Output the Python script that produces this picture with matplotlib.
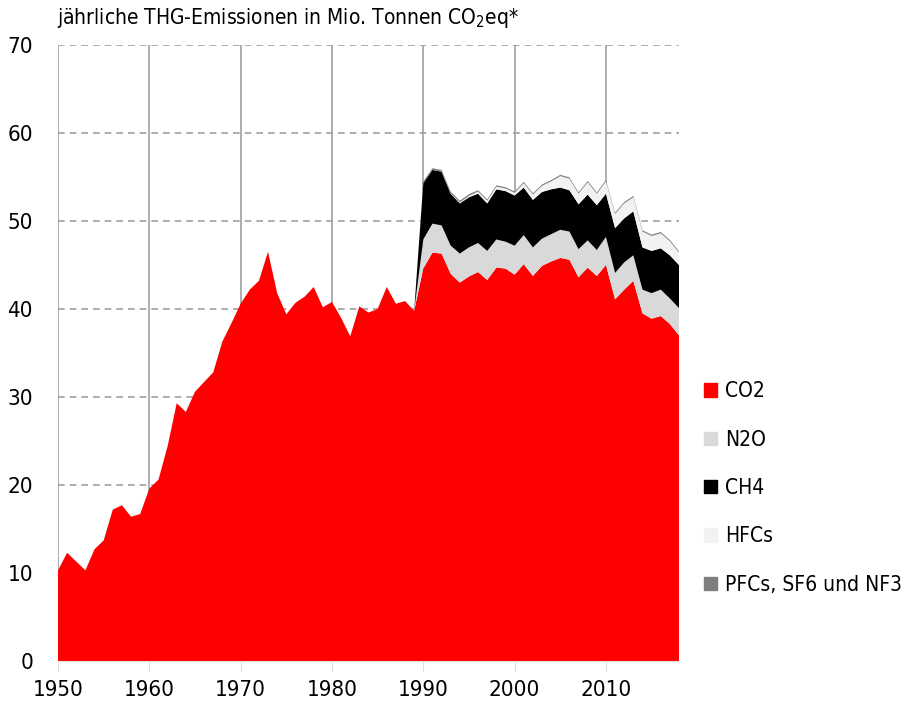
import numpy as np
import matplotlib
matplotlib.use("Agg")
import matplotlib.pyplot as plt
from matplotlib.patches import Patch
from matplotlib import font_manager

# schmale Schrift nehmen, falls vorhanden
narrow = [f for f in font_manager.fontManager.ttflist
          if f.stretch in ("condensed", "semi-condensed", "extra-condensed")
          or "Narrow" in f.name or "Condensed" in f.name]
if narrow:
    plt.rcParams['font.family'] = [narrow[0].name, 'DejaVu Sans']
    plt.rcParams['font.stretch'] = narrow[0].stretch
    fs = 16
else:
    plt.rcParams['font.family'] = ['Roboto', 'DejaVu Sans']
    fs = 14

years = np.arange(1950, 2019)

# CO2 1950-2018 (Mio. t)
co2 = [10.3, 12.3, 11.3, 10.3, 12.7, 13.7, 17.2, 17.7, 16.4, 16.7,
       19.6, 20.6, 24.4, 29.3, 28.3, 30.6, 31.7, 32.8, 36.3, 38.4,
       40.6, 42.2, 43.2, 46.5, 41.8, 39.4, 40.7, 41.4, 42.5, 40.2,
       40.8, 39.0, 36.9, 40.3, 39.6, 40.0, 42.5, 40.6, 40.9, 39.8,
       44.6, 46.4, 46.3, 44.0, 43.0, 43.7, 44.2, 43.3, 44.7, 44.6,
       43.9, 45.1, 43.75, 44.9, 45.4, 45.8, 45.6, 43.6, 44.7, 43.75,
       45.0, 41.1, 42.2, 43.2, 39.5, 38.9, 39.2, 38.3, 37.0]

# weitere Gase erst ab 1990 (davor 0)
n_before = 40
n2o = [0] * n_before + [3.3, 3.3, 3.2, 3.2, 3.3, 3.3, 3.3, 3.3, 3.2, 3.05,
                        3.3, 3.3, 3.25, 3.1, 3.1, 3.2, 3.2, 3.2, 3.1, 2.95,
                        3.2, 3.0, 3.1, 2.9, 2.7, 2.9, 3.0, 2.9, 3.1]
ch4 = [0] * n_before + [6.4, 6.1, 6.1, 5.9, 5.7, 5.7, 5.6, 5.4, 5.7, 5.75,
                        5.7, 5.4, 5.4, 5.3, 5.1, 4.8, 4.7, 5.1, 5.2, 5.1,
                        4.9, 5.1, 5.0, 5.0, 4.8, 4.8, 4.7, 4.9, 4.9]
hfcs = [0] * n_before + [0.0, 0.0, 0.0, 0.05, 0.1, 0.15, 0.25, 0.3, 0.3, 0.3,
                         0.3, 0.5, 0.6, 0.7, 0.9, 1.3, 1.3, 1.2, 1.4, 1.3,
                         1.4, 1.6, 1.7, 1.6, 1.8, 1.7, 1.7, 1.6, 1.4]
pfcs = [0] * n_before + [0.2, 0.2, 0.2, 0.2, 0.2, 0.2, 0.15, 0.15, 0.15, 0.15,
                         0.15, 0.15, 0.15, 0.15, 0.15, 0.15, 0.15, 0.15, 0.15, 0.15,
                         0.15, 0.15, 0.15, 0.15, 0.15, 0.15, 0.15, 0.15, 0.15]

labels = ["CO2", "N2O", "CH4", "HFCs", "PFCs, SF6 und NF3"]
colors = ["#ff0000", "#d9d9d9", "#000000", "#f2f2f2", "#808080"]

fig = plt.figure(figsize=(9.14, 7.01), dpi=100)
ax = fig.add_axes([58 / 914, 1 - 661 / 701, (679 - 58) / 914, (661 - 45) / 701])

ax.stackplot(years, co2, n2o, ch4, hfcs, pfcs, colors=colors, lw=0, zorder=2)

ax.set_xlim(1950, 2018)
ax.set_ylim(0, 70)
ax.set_xticks(range(1950, 2011, 10))
ax.set_yticks(range(0, 71, 10))
ax.xaxis.grid(True, color="#a0a0a0", lw=1.2, zorder=1)
ax.yaxis.grid(True, color="#a0a0a0", lw=1.2, ls=(0, (4, 3)), zorder=1)
ax.set_axisbelow(True)

for s in ["top", "right", "left"]:
    ax.spines[s].set_visible(False)
ax.spines["bottom"].set_color("#dddddd")
ax.tick_params(axis="x", length=7, color="#dddddd", pad=7, labelsize=fs)
ax.tick_params(axis="y", length=0, pad=18, labelsize=fs)

fig.text(57 / 914, 1 - 18 / 701, "jährliche THG-Emissionen in Mio. Tonnen CO$_2$eq*",
         fontsize=fs - 1, va="center", ha="left")

handles = [Patch(color=c) for c in colors]
fig.legend(handles, labels, loc="upper left", bbox_to_anchor=(696 / 914, 1 - 373 / 701),
           frameon=False, fontsize=fs - 1, handlelength=0.6, handleheight=0.6,
           handletextpad=0.4, labelspacing=1.36, borderaxespad=0)

fig.savefig("out.png", dpi=100)
